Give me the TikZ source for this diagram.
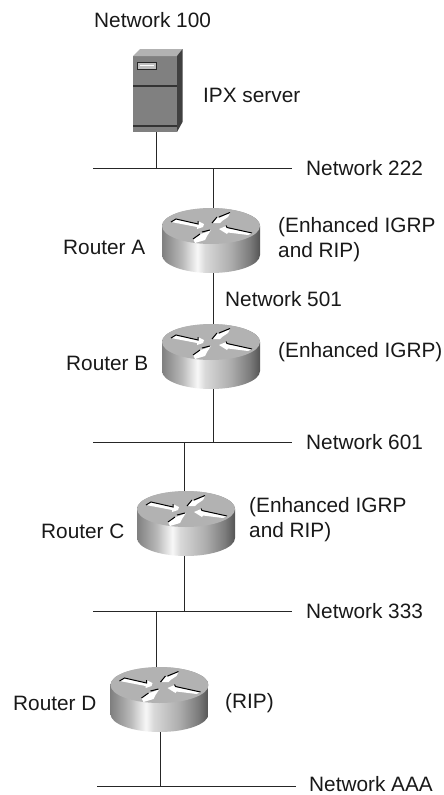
\documentclass[tikz,border=0pt]{standalone}
\usepackage{fontspec}
\setmainfont{Liberation Sans}
\pgfdeclarehorizontalshading{cylshade}{100bp}{
  rgb(0bp)=(0.50,0.50,0.50);
  rgb(25bp)=(0.50,0.50,0.50);
  rgb(35bp)=(0.72,0.72,0.72);
  rgb(43bp)=(0.97,0.97,0.97);
  rgb(47bp)=(0.85,0.85,0.85);
  rgb(60bp)=(0.68,0.68,0.68);
  rgb(70bp)=(0.48,0.48,0.48);
  rgb(75bp)=(0.33,0.33,0.33);
  rgb(100bp)=(0.33,0.33,0.33)}
\begin{document}
\begin{tikzpicture}[x=1pt,y=-1pt,line cap=butt,
  lbl/.style={inner sep=0pt,anchor=west,font=\fontsize{20.8}{25}\selectfont,align=left,text=black!90},
  lan/.style={black!85,line width=1pt},
  routerpic/.pic={
    \shade[shading=cylshade]
      (-49,0) -- (-49,29) arc[start angle=180,end angle=0,x radius=49,y radius=18] -- (49,0)
      arc[start angle=0,end angle=-180,x radius=49,y radius=18] -- cycle;
    \fill[black!30] (0,0) ellipse[x radius=49,y radius=18];
    % four arrows: white body with a black upper edge
    \fill[white] (-40,-4) -- (-35,-7) -- (-13,-2) -- (-13,-5) -- (-7,-2) -- (-8,1) -- (-14,3) -- (-14,1) -- cycle;
    \draw[black,line width=1pt] (-40,-4) -- (-35,-7) -- (-13,-2) -- (-13,-5);
    \fill[white] (19,-13) -- (17,-9) -- (11,-5) -- (9,-3) -- (2,-3) -- (6,-9) -- (8,-8) -- cycle;
    \draw[black,line width=1pt] (1,-3) -- (6,-9) (8,-9) -- (19,-13.5);
    \fill[white] (8,3) -- (15,0) -- (16,2) -- (41,7) -- (37,9) -- (17,6.5) -- (16,8) -- cycle;
    \draw[black,line width=1pt] (15,-0.5) -- (16,1.5) -- (41,7);
    \fill[white] (-18,13) -- (-13,10) -- (-11,8) -- (-7,7) -- (0,4) -- (-4,10) -- (-6,14) -- (-16,17) -- cycle;
    \draw[black,line width=1pt] (-18,13) -- (-11,8) (-9,6) -- (-1,4);
  },
]
\useasboundingbox (0,0) rectangle (444,795);
\fill[white] (0,0) rectangle (444,795);
% coordinates
\coordinate (srv) at (156,130);
\coordinate (a) at (213,226);
\coordinate (b) at (213,342);
\coordinate (c) at (184,509);
\coordinate (dup) at (156,685);
\coordinate (ddown) at (160,720);
\coordinate (n222l) at (93,168); \coordinate (n222r) at (292,168);
\coordinate (n601l) at (93,442); \coordinate (n601r) at (292,442);
\coordinate (n333l) at (93,611); \coordinate (n333r) at (292,611);
\coordinate (naaal) at (97,786); \coordinate (naaar) at (296,786);
\coordinate (n222c) at (156,168);
\coordinate (n222a) at (213,168);
\coordinate (n601a) at (213,442); \coordinate (n601b) at (184,442);
\coordinate (n333a) at (184,611); \coordinate (n333b) at (156,611);
\coordinate (naaac) at (160,786);
\draw[lan] (n222l) -- (n222r);
\draw[lan] (n601l) -- (n601r);
\draw[lan] (n333l) -- (n333r);
\draw[lan] (naaal) -- (naaar);
\draw[lan] (srv) -- (n222c);
\draw[lan] (n222a) -- (a);
\draw[lan] (a) -- (b);
\draw[lan] (b) -- (n601a);
\draw[lan] (n601b) -- (c);
\draw[lan] (c) -- (n333a);
\draw[lan] (n333b) -- (dup);
\draw[lan] (ddown) -- (naaac);
% server
\fill[black!50] (133,56) rectangle (177,132);
\fill[black!30] (133,56) -- (140,49) -- (182.5,49) -- (177,56) -- cycle;
\fill[black!75] (177,56) -- (182.5,49) -- (182.5,122) -- (177,132) -- cycle;
\fill[black!80] (133,84.5) rectangle (177,86.5);
\fill[black!80] (133,125) rectangle (177,127);
\fill[black!25,draw=black!85,line width=0.8pt] (137,62) rectangle (156.5,69);
\draw[white,line width=0.7pt] (140,65.5) -- (154,65.5);
% routers
\path (211,226) pic {routerpic};
\path (211,342) pic {routerpic};
\path (186,509) pic {routerpic};
\path (159.5,685) pic {routerpic};
% labels
\node[lbl] (t0) at (94,20) {Network 100};
\node[lbl] (t1) at (203,95) {IPX server};
\node[lbl] (t2) at (306,168) {Network 222};
\node[lbl] (t3) at (278,239.5) {(Enhanced IGRP\\and RIP)};
\node[lbl] (t4) at (63,247) {Router A};
\node[lbl] (t5) at (225,299) {Network 501};
\node[lbl] (t6) at (278,352) {(Enhanced IGRP)};
\node[lbl] (t7) at (66,363) {Router B};
\node[lbl] (t8) at (306,442) {Network 601};
\node[lbl] (t9) at (249,519.5) {(Enhanced IGRP\\and RIP)};
\node[lbl] (t10) at (41,531) {Router C};
\node[lbl] (t11) at (306,611) {Network 333};
\node[lbl] (t12) at (13,703) {Router D};
\node[lbl] (t13) at (225,703) {(RIP)};
\node[lbl] (t14) at (309,784.5) {Network AAA};
\end{tikzpicture}
\end{document}
